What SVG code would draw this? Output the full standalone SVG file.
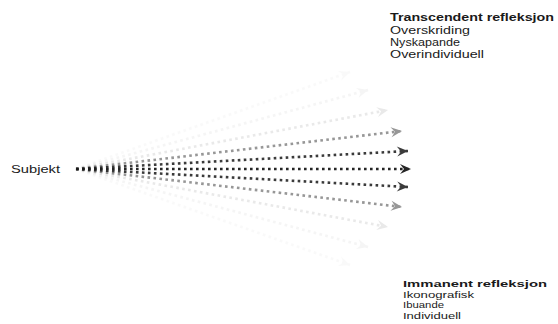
<svg xmlns="http://www.w3.org/2000/svg" width="558" height="324" viewBox="0 0 558 324">
<style>
text{font-family:"Liberation Sans",Arial,sans-serif;fill:#1a1a1a}
.t{font-size:10px}
.s{font-size:9.8px}
.b{font-weight:bold}
.ray{stroke:#1a1a1a;stroke-width:2.6;stroke-dasharray:2.6 3.4;fill:none;marker-end:url(#ah)}
</style>
<defs>
<marker id="ah" markerUnits="userSpaceOnUse" markerWidth="12" markerHeight="10" refX="11" refY="5" orient="auto" overflow="visible">
<path d="M0,0 L11,5 L0,10 L4,5 Z" fill="#1a1a1a"/>
</marker>
</defs>
<rect width="558" height="324" fill="#fff"/>
<g id="connectors">
<g opacity="0.02"><line class="ray" x1="76" y1="169" x2="350" y2="72"/><line class="ray" x1="76" y1="169" x2="350" y2="265"/></g>
<g opacity="0.04"><line class="ray" x1="76" y1="169" x2="368" y2="90"/><line class="ray" x1="76" y1="169" x2="368" y2="247"/></g>
<g opacity="0.09"><line class="ray" x1="76" y1="169" x2="388" y2="110"/><line class="ray" x1="76" y1="169" x2="388" y2="227"/></g>
<g opacity="0.45"><line class="ray" x1="76" y1="169" x2="402" y2="131"/><line class="ray" x1="76" y1="169" x2="402" y2="207"/></g>
<g opacity="0.85"><line class="ray" x1="76" y1="169" x2="408" y2="151"/><line class="ray" x1="76" y1="169" x2="408" y2="187"/></g>
<g opacity="0.95"><line class="ray" x1="76" y1="169" x2="411" y2="169"/></g>
</g>
<g id="subjekt"><text class="t" x="11" y="173" textLength="49" lengthAdjust="spacingAndGlyphs">Subjekt</text></g>
<g id="transcendent">
<text class="t b" x="390" y="21" textLength="164" lengthAdjust="spacingAndGlyphs">Transcendent refleksjon</text>
<text class="t" x="390" y="34" textLength="80" lengthAdjust="spacingAndGlyphs">Overskriding</text>
<text class="t" x="390" y="46" textLength="70" lengthAdjust="spacingAndGlyphs">Nyskapande</text>
<text class="t" x="390" y="58" textLength="94" lengthAdjust="spacingAndGlyphs">Overindividuell</text>
</g>
<g id="immanent">
<text class="s b" x="403" y="287" textLength="144" lengthAdjust="spacingAndGlyphs">Immanent refleksjon</text>
<text class="s" x="403" y="297.5" textLength="71" lengthAdjust="spacingAndGlyphs">Ikonografisk</text>
<text class="s" x="403" y="308" textLength="41" lengthAdjust="spacingAndGlyphs">Ibuande</text>
<text class="s" x="403" y="318.5" textLength="58" lengthAdjust="spacingAndGlyphs">Individuell</text>
</g>
</svg>
